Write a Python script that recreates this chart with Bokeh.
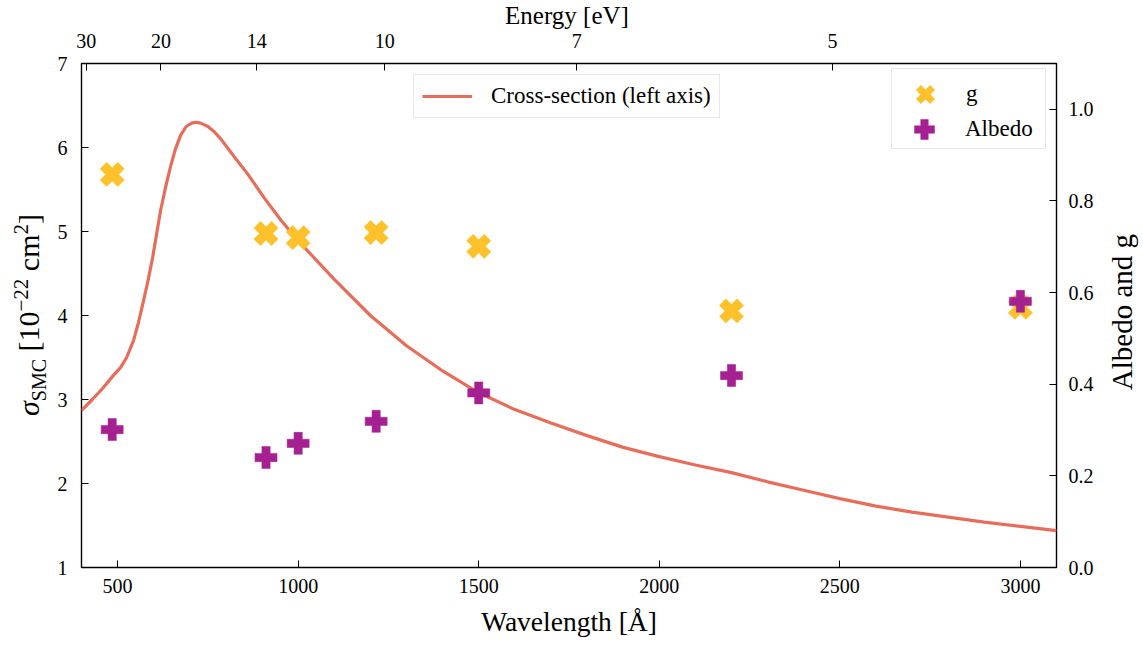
import math
from bokeh.plotting import figure
from bokeh.layouts import row, column
from bokeh.models import (Range1d, LinearAxis, FixedTicker, CustomJSTickFormatter,
                          NumeralTickFormatter, Legend, LegendItem, ColumnDataSource, Div)
from bokeh.embed import file_html
from bokeh.resources import INLINE

# ---------------- data ----------------
curve_wavelength = [400, 430, 460, 489, 508, 525, 544, 558, 572, 585, 597, 608, 619, 633, 647,
                    660, 675, 690, 705, 717, 730, 750, 767, 786, 800, 830, 861, 906, 953, 1000,
                    1100, 1200, 1300, 1400, 1500, 1600, 1700, 1800, 1900, 2000, 2100, 2200,
                    2300, 2400, 2500, 2600, 2700, 2800, 2900, 3000, 3100]
curve_sigma = [2.87, 3.00, 3.14, 3.29, 3.38, 3.50, 3.70, 3.92, 4.18, 4.43, 4.69, 4.97, 5.25,
               5.53, 5.78, 5.98, 6.15, 6.25, 6.29, 6.30, 6.29, 6.25, 6.19, 6.10, 6.02, 5.85,
               5.68, 5.40, 5.13, 4.89, 4.43, 4.00, 3.64, 3.34, 3.08, 2.88, 2.72, 2.57, 2.43,
               2.32, 2.22, 2.13, 2.02, 1.92, 1.82, 1.73, 1.66, 1.60, 1.54, 1.49, 1.44]

point_wavelength = [485, 911, 1000, 1216, 1500, 2200, 3000]
g_values = [0.858, 0.729, 0.720, 0.731, 0.701, 0.560, 0.568]
albedo_values = [0.301, 0.240, 0.271, 0.319, 0.381, 0.419, 0.581]

wavelength_ticks = [500, 1000, 1500, 2000, 2500, 3000]
sigma_ticks = [1, 2, 3, 4, 5, 6, 7]
right_ticks = [0.0, 0.2, 0.4, 0.6, 0.8, 1.0]
energy_ticks_eV = [30, 20, 14, 10, 7, 5]
HC = 12398.4  # eV * Angstrom

LINE_C = "#e76d5b"
G_C = "#fdc22b"
ALB_C = "#a52090"
FONT = "Liberation Serif"

TOP_H = 23
LEFT_W = 45
RIGHT_W = 40
FIG_W = 1056
FIG_H = 621

p = figure(width=FIG_W, height=FIG_H, x_range=Range1d(400, 3100), y_range=Range1d(1, 7),
           output_backend="svg", toolbar_location=None,
           min_border_left=36, min_border_right=45, min_border_top=40, min_border_bottom=77)
p.extra_y_ranges = {"right": Range1d(0, 1.1)}
p.xgrid.visible = False
p.ygrid.visible = False
p.outline_line_color = "black"
p.outline_line_width = 1.4
p.border_fill_color = None
p.background_fill_color = "white"

top_axis = LinearAxis(ticker=FixedTicker(ticks=[HC / e for e in energy_ticks_eV]),
                      formatter=CustomJSTickFormatter(code="return (12398.4/tick).toFixed(0)"))
right_axis = LinearAxis(y_range_name="right", ticker=FixedTicker(ticks=right_ticks),
                        formatter=NumeralTickFormatter(format="0.0"))
p.add_layout(top_axis, "above")
p.add_layout(right_axis, "right")
bottom_axis = p.below[0]
left_axis = p.left[0]
bottom_axis.ticker = FixedTicker(ticks=wavelength_ticks)
bottom_axis.axis_label = "Wavelength [Å]"
left_axis.ticker = FixedTicker(ticks=sigma_ticks)

for ax, standoff in [(bottom_axis, 11), (left_axis, 14), (top_axis, 16), (right_axis, 12)]:
    ax.major_tick_in = 7
    ax.major_tick_out = 0
    ax.minor_tick_in = 0
    ax.minor_tick_out = 0
    ax.axis_line_color = None
    ax.major_tick_line_color = "black"
    ax.major_tick_line_width = 1
    ax.major_label_text_font = FONT
    ax.major_label_text_font_size = "20px"
    ax.major_label_text_color = "black"
    ax.major_label_standoff = standoff
bottom_axis.axis_label_text_font = FONT
bottom_axis.axis_label_text_font_size = "27.5px"
bottom_axis.axis_label_text_font_style = "normal"
bottom_axis.axis_label_text_color = "black"
bottom_axis.axis_label_standoff = 10

src = ColumnDataSource(dict(x=curve_wavelength, y=curve_sigma))
line_r = p.line("x", "y", source=src, line_color=LINE_C, line_width=3.2)

psrc = ColumnDataSource(dict(x=point_wavelength, g=g_values, a=albedo_values))
p.scatter("x", "g", source=psrc, marker="plus", size=25, angle=math.pi / 4,
          fill_color=G_C, line_color=G_C, line_width=0.5, y_range_name="right")
a_r = p.scatter("x", "a", source=psrc, marker="plus", size=22,
                fill_color=ALB_C, line_color=ALB_C, line_width=0.5, y_range_name="right")

# legend key for g (a point that is never drawn inside the plot)
nan = float("nan")
g_leg = p.scatter(x=[nan], y=[nan], marker="x", size=20, line_color=G_C, line_width=7,
                  y_range_name="right")

leg1 = Legend(items=[LegendItem(label="Cross-section (left axis)", renderers=[line_r])],
              location=(332, 449), label_text_font=FONT, label_text_font_size="23px",
              label_text_color="black", glyph_width=50, glyph_height=24, label_standoff=19,
              spacing=0, padding=8, border_line_color="#cfcfcf", border_line_width=1,
              background_fill_color="white", background_fill_alpha=0.85, margin=0)
leg_g = Legend(items=[LegendItem(label="g", renderers=[g_leg])],
               location=(810, 418), label_text_font=FONT, label_text_font_size="23px",
               label_text_color="black", glyph_width=66, glyph_height=50, label_standoff=8,
               label_width=79, spacing=0, padding=dict(left=0, right=0, top=0, bottom=29),
               border_line_color="#cfcfcf", border_line_width=1,
               background_fill_color="white", background_fill_alpha=0.85, margin=0)
leg_a = Legend(items=[LegendItem(label="Albedo", renderers=[a_r], index=0)],
               location=(810, 413), label_text_font=FONT, label_text_font_size="23px",
               label_text_color="black", glyph_width=66, glyph_height=50, label_standoff=8,
               label_width=79, spacing=0, padding=0, border_line_color=None,
               background_fill_alpha=0.0, margin=0)
p.add_layout(leg1)
p.add_layout(leg_g)
p.add_layout(leg_a)

top_html = (
    '<div style="position:relative;width:%dpx;height:%dpx;">'
    '<div style="position:absolute;left:567px;top:3px;transform:translateX(-50%%);'
    "white-space:nowrap;font-family:'Liberation Serif';font-size:25px;line-height:25px;"
    'color:black;">Energy [eV]</div></div>' % (LEFT_W + FIG_W + RIGHT_W, TOP_H)
)
left_html = (
    '<div style="position:relative;width:%dpx;height:%dpx;">'
    '<div style="position:absolute;left:30px;top:%dpx;'
    'transform:translate(-50%%,-50%%) rotate(-90deg);white-space:nowrap;'
    "font-family:'Liberation Serif';font-size:30px;color:black;line-height:1;\">"
    '<i>σ</i><sub style="font-size:20px;">SMC</sub> [10<sup style="font-size:21px;">−22</sup>'
    ' cm<sup style="font-size:21px;">2</sup>]</div></div>' % (LEFT_W, FIG_H, 315 - TOP_H)
)
right_html = (
    '<div style="position:relative;width:%dpx;height:%dpx;">'
    '<div style="position:absolute;left:21px;top:%dpx;'
    'transform:translate(-50%%,-50%%) rotate(-90deg);white-space:nowrap;'
    "font-family:'Liberation Serif';font-size:29px;color:black;line-height:1;\">"
    'Albedo and g</div></div>' % (RIGHT_W, FIG_H, 312 - TOP_H)
)
top_div = Div(text=top_html, width=LEFT_W + FIG_W + RIGHT_W, height=TOP_H, margin=0)
left_div = Div(text=left_html, width=LEFT_W, height=FIG_H, margin=0)
right_div = Div(text=right_html, width=RIGHT_W, height=FIG_H, margin=0)

layout = column(top_div, row(left_div, p, right_div, spacing=0), spacing=0)
open("out.html", "w").write(file_html(layout, INLINE))
